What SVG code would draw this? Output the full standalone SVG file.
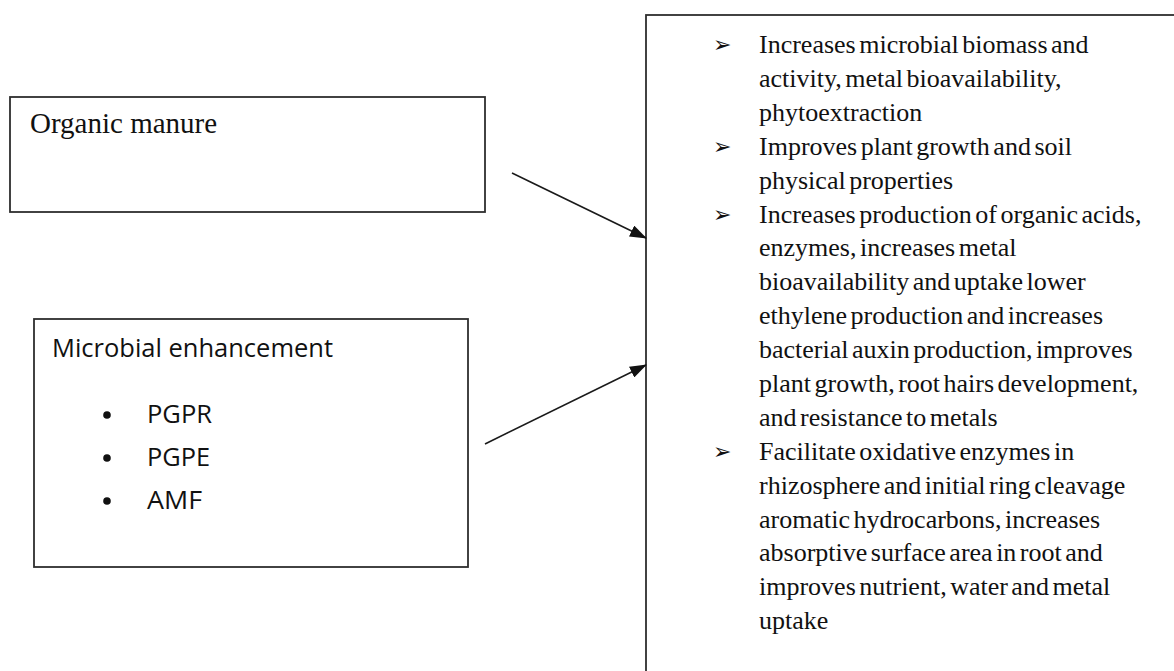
<svg xmlns="http://www.w3.org/2000/svg" width="1174" height="671" viewBox="0 0 1174 671">
  <style>
    .box { fill: #ffffff; stroke: #2e2e2e; stroke-width: 1.8; }
    .serif { font-family: "Liberation Serif", "DejaVu Serif", serif; fill: #111111; }
    .sans { font-family: "Open Sans", "Liberation Sans", sans-serif; fill: #111111; }
    .list { font-size: 26px; word-spacing: -3px; }
    .tick { font-family: "DejaVu Sans", sans-serif; font-size: 22px; fill: #111111; }
    .conn { stroke: #1a1a1a; stroke-width: 1.6; fill: none; marker-end: url(#head); }
  </style>
  <defs>
    <marker id="head" markerWidth="17" markerHeight="12" refX="16" refY="6" orient="auto" markerUnits="userSpaceOnUse">
      <path d="M0,0 L17,6 L0,12 Z" fill="#111111"/>
    </marker>
  </defs>
  <rect width="1174" height="671" fill="#ffffff"/>

  <!-- Organic manure node -->
  <g id="organic-manure">
    <rect class="box" x="10" y="97" width="475" height="115"/>
    <text class="serif" x="30" y="133" font-size="29">Organic manure</text>
  </g>

  <!-- Microbial enhancement node -->
  <g id="microbial-enhancement">
    <rect class="box" x="34" y="319" width="434" height="248"/>
    <text class="sans" x="52" y="357" font-size="25" textLength="281" lengthAdjust="spacingAndGlyphs">Microbial enhancement</text>
    <circle cx="107" cy="415" r="3.8" fill="#111111"/>
    <circle cx="107" cy="458" r="3.8" fill="#111111"/>
    <circle cx="107" cy="501" r="3.8" fill="#111111"/>
    <text class="sans" x="147" y="423" font-size="25" textLength="65" lengthAdjust="spacingAndGlyphs">PGPR</text>
    <text class="sans" x="147" y="466" font-size="25" textLength="63" lengthAdjust="spacingAndGlyphs">PGPE</text>
    <text class="sans" x="147" y="509" font-size="25" textLength="55" lengthAdjust="spacingAndGlyphs">AMF</text>
  </g>

  <!-- Effects node (continues past the right and bottom edges) -->
  <g id="effects">
    <rect class="box" x="646" y="15" width="560" height="700"/>
    <text class="tick" x="713" y="52">➢</text>
    <text class="tick" x="713" y="154">➢</text>
    <text class="tick" x="713" y="222">➢</text>
    <text class="tick" x="713" y="459">➢</text>
    <g class="serif list">
      <text x="759" y="53">Increases microbial biomass and</text>
      <text x="759" y="87">activity, metal bioavailability,</text>
      <text x="759" y="121">phytoextraction</text>
      <text x="759" y="155">Improves plant growth and soil</text>
      <text x="759" y="189">physical properties</text>
      <text x="759" y="223">Increases production of organic acids,</text>
      <text x="759" y="256">enzymes, increases metal</text>
      <text x="759" y="290">bioavailability and uptake lower</text>
      <text x="759" y="324">ethylene production and increases</text>
      <text x="759" y="358">bacterial auxin production, improves</text>
      <text x="759" y="392">plant growth, root hairs development,</text>
      <text x="759" y="426">and resistance to metals</text>
      <text x="759" y="460">Facilitate oxidative enzymes in</text>
      <text x="759" y="494">rhizosphere and initial ring cleavage</text>
      <text x="759" y="528">aromatic hydrocarbons, increases</text>
      <text x="759" y="561">absorptive surface area in root and</text>
      <text x="759" y="595">improves nutrient, water and metal</text>
      <text x="759" y="629">uptake</text>
    </g>
  </g>

  <!-- Connectors -->
  <g id="connectors">
    <line class="conn" x1="512" y1="173" x2="646" y2="238"/>
    <line class="conn" x1="485" y1="444" x2="646" y2="365"/>
  </g>
</svg>
